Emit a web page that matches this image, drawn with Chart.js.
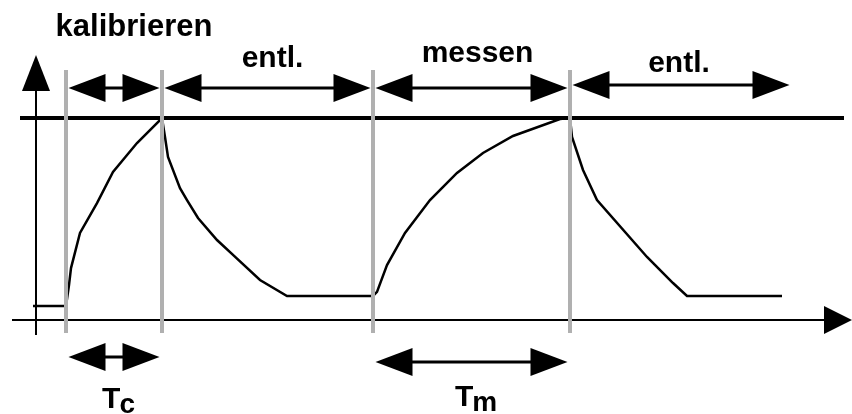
<!DOCTYPE html>
<html>
<head>
<meta charset="utf-8">
<script src="https://cdn.jsdelivr.net/npm/chart.js@4/dist/chart.umd.min.js"></script>
<style>
html, body { margin: 0; padding: 0; background: #fff; }
canvas { display: block; }
</style>
</head>
<body>
<canvas id="c" width="852" height="414"></canvas>
<script>
// phases of one cycle, time in arbitrary units
var phaseNames = ['kalibrieren', 'entl.', 'messen', 'entl.'];
var phaseStart = [3.0, 12.6, 33.7, 53.4];
var phaseEnd = [12.6, 33.7, 53.4, 75.6];

// periods marked below the time axis (T with subscript)
var periodSub = ['c', 'm'];
var periodStart = [3.0, 33.7];
var periodEnd = [12.6, 53.4];

// sensor signal, 1 = saturation level
var curveT = [-0.3, 3.0, 3.3, 3.5, 4.4, 6.1, 7.7, 10.1, 12.6,
  12.9, 13.2, 14.4, 15.1, 16.2, 18.1, 19.7, 22.4, 25.1, 33.7,
  34.1, 35.1, 36.9, 39.4, 42.1, 44.7, 47.7, 52.4, 53.4,
  53.6, 54.7, 56.1, 61.1, 63.7, 65.1, 74.6];
var curveV = [0.069, 0.069, 0.173, 0.257, 0.431, 0.579, 0.733, 0.876, 1.0,
  0.906, 0.807, 0.653, 0.594, 0.505, 0.396, 0.322, 0.198, 0.119, 0.119,
  0.139, 0.272, 0.431, 0.594, 0.728, 0.827, 0.911, 0.995, 1.0,
  0.906, 0.743, 0.594, 0.312, 0.183, 0.119, 0.119];
var saturation = 1.0;

function pts(xs, ys) {
  return xs.map(function (x, i) { return { x: x, y: ys[i] }; });
}

function head(ctx, x, y, dx, dy, len, half) {
  ctx.beginPath();
  ctx.moveTo(x, y);
  ctx.lineTo(x - dx * len - dy * half, y - dy * len + dx * half);
  ctx.lineTo(x - dx * len + dy * half, y - dy * len - dx * half);
  ctx.closePath();
  ctx.fill();
}

function dblArrow(ctx, x1, x2, y, len, half) {
  ctx.beginPath();
  ctx.moveTo(x1 + len / 2, y);
  ctx.lineTo(x2 - len / 2, y);
  ctx.stroke();
  head(ctx, x1, y, -1, 0, len, half);
  head(ctx, x2, y, 1, 0, len, half);
}

var arrowPlugin = {
  id: 'arrows',
  afterDatasetsDraw: function (chart, args, o) {
    var ctx = chart.ctx, xs = chart.scales.x, ys = chart.scales.y;
    ctx.save();
    ctx.fillStyle = '#000';
    ctx.strokeStyle = '#000';
    ctx.lineWidth = 3;

    // axis heads
    head(ctx, xs.getPixelForValue(0), ys.getPixelForValue(o.yTip), 0, -1, 36, 14);
    head(ctx, xs.getPixelForValue(o.xTip), ys.getPixelForValue(0), 1, 0, 28, 14);

    // phase arrows with names
    ctx.textAlign = 'center';
    ctx.textBaseline = 'alphabetic';
    phaseNames.forEach(function (name, i) {
      var x1 = xs.getPixelForValue(phaseStart[i]) + o.inset;
      var x2 = xs.getPixelForValue(phaseEnd[i]) - o.inset;
      var y = ys.getPixelForValue(o.phaseLevel[i]);
      dblArrow(ctx, x1, x2, y, 37, 14);
      ctx.font = 'bold ' + o.phaseFont[i] + 'px "Liberation Sans", Arial, sans-serif';
      ctx.fillText(name, (x1 + x2) / 2 + o.labelDx[i], y + o.labelDy[i]);
    });

    // periods T_c, T_m
    ctx.textAlign = 'left';
    periodSub.forEach(function (sub, i) {
      var x1 = xs.getPixelForValue(periodStart[i]) + o.inset;
      var x2 = xs.getPixelForValue(periodEnd[i]) - o.inset;
      var y = ys.getPixelForValue(o.periodLevel[i]);
      dblArrow(ctx, x1, x2, y, 37, 14);
      ctx.font = 'bold 30px "Liberation Sans", Arial, sans-serif';
      var wT = ctx.measureText('T').width;
      ctx.font = 'bold 28px "Liberation Sans", Arial, sans-serif';
      var wS = ctx.measureText(sub).width;
      var left = (x1 + x2) / 2 + 5 - (wT + wS) / 2;
      ctx.font = 'bold 30px "Liberation Sans", Arial, sans-serif';
      ctx.fillText('T', left, y + o.periodDy[i]);
      ctx.font = 'bold 28px "Liberation Sans", Arial, sans-serif';
      ctx.fillText(sub, left + wT - 1, y + o.periodDy[i] + 5);
    });
    ctx.restore();
  }
};

var datasets = [];
// grey phase boundaries, drawn on top
phaseStart.forEach(function (t) {
  datasets.push({
    data: [{ x: t, y: -0.064 }, { x: t, y: 1.238 }],
    borderColor: '#b0b0b0', borderWidth: 4, order: 0, clip: false
  });
});
datasets.push({
  data: pts(curveT, curveV),
  borderColor: '#000', borderWidth: 2.5, order: 1, clip: false
});
datasets.push({
  data: [{ x: -1.6, y: saturation }, { x: 80.8, y: saturation }],
  borderColor: '#000', borderWidth: 4, order: 2, clip: false
});
// axes
datasets.push({
  data: [{ x: 0, y: -0.074 }, { x: 0, y: 1.14 }],
  borderColor: '#000', borderWidth: 2, order: 3, clip: false
});
datasets.push({
  data: [{ x: -2.4, y: 0 }, { x: 79, y: 0 }],
  borderColor: '#000', borderWidth: 2, order: 3, clip: false
});

new Chart(document.getElementById('c'), {
  type: 'line',
  data: { datasets: datasets },
  options: {
    responsive: false,
    animation: false,
    layout: { padding: { left: 36, right: 16, top: 118, bottom: 94 } },
    elements: { point: { radius: 0 }, line: { tension: 0, fill: false } },
    scales: {
      x: { type: 'linear', min: 0, max: 80, display: false },
      y: { type: 'linear', min: 0, max: 1, display: false }
    },
    plugins: {
      legend: { display: false },
      tooltip: { enabled: false },
      arrows: {
        inset: 2.5,
        yTip: 1.312,
        xTip: 81.6,
        phaseLevel: [1.149, 1.149, 1.149, 1.163],
        phaseFont: [31, 30, 30, 30],
        labelDx: [20, 5, 6, -2],
        labelDy: [-52, -21, -26, -13],
        periodLevel: [-0.183, -0.208],
        periodDy: [51, 44]
      }
    }
  },
  plugins: [arrowPlugin]
});
</script>
</body>
</html>
